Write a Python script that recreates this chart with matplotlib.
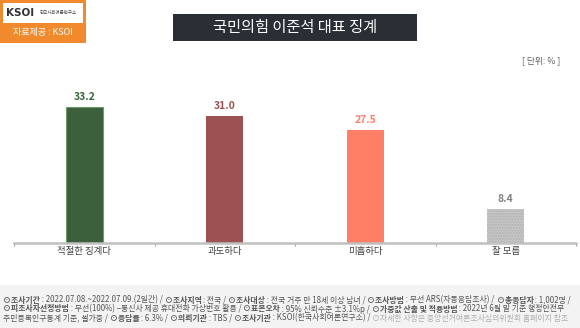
import matplotlib
matplotlib.use("Agg")
import matplotlib.pyplot as plt
from matplotlib.patches import Rectangle

plt.rcParams['font.family'] = ['Noto Sans CJK KR', 'DejaVu Sans']

# survey result (%)
categories = ['적절한 징계다', '과도하다', '미흡하다', '잘 모름']
values = [33.2, 31.0, 27.5, 8.4]
bar_colors = ['#3b603b', '#9c5252', '#ff7f66', '#c6c6c6']
label_colors = ['#3b643b', '#9c5252', '#ff7f66', '#7f7f7f']

title = '국민의힘 이준석 대표 징계'
unit = '[ 단위: % ]'

# footer: list of lines, each a list of (text, bold)
footer = [
    [('⊙조사기간', True), (' : 2022.07.08.~2022.07.09.(2일간) / ', False),
     ('⊙조사지역', True), (' : 전국 / ', False),
     ('⊙조사대상', True), (' : 전국 거주 만 18세 이상 남녀 / ', False),
     ('⊙조사방법', True), (' : 무선 ARS(자동응답조사) / ', False),
     ('⊙총응답자', True), (' : 1,002명 /', False)],
    [('⊙피조사자선정방법', True), (' : 무선(100%) –통신사 제공 휴대전화 가상번호 활용 / ', False),
     ('⊙표본오차', True), (' : 95% 신뢰수준 ±3.1%p / ', False),
     ('⊙가중값 산출 및 적용방법', True), (' : 2022년 6월 말 기준 행정안전부', False)],
    [('주민등록인구통계 기준, 셀가중 / ', False),
     ('⊙응답률', True), (' : 6.3% / ', False),
     ('⊙의뢰기관', True), (' : TBS / ', False),
     ('⊙조사기관', True), (' : KSOI(한국사회여론연구소) / ', False),
     ('⊙자세한 사항은 중앙선거여론조사심의위원회 홈페이지 참조', None)],
]

W, H = 580, 328
fig = plt.figure(figsize=(W / 100, H / 100), dpi=100)
fig.patch.set_facecolor('white')

# --- bar chart ---
ax = fig.add_axes([14 / W, 85 / H, 562 / W, 164 / H])
x = range(len(categories))
bars = ax.bar(x, values, width=0.265, color=bar_colors, linewidth=0, zorder=2)
bars[0].set_edgecolor('#6b9a6b')
bars[0].set_linewidth(0.8)
bars[3].set_hatch('......')
bars[3].set_edgecolor('#b2b2b2')
bars[3].set_linewidth(0)

for i, v in enumerate(values):
    ax.annotate(f'{v:.1f}', (i, v), xytext=(0, 3.5), textcoords='offset points',
                ha='center', va='bottom', fontsize=7.5, fontweight='bold',
                color=label_colors[i])

ax.set_xlim(-0.5, len(categories) - 0.5)
ax.set_ylim(0, 40)
for s in ['top', 'right', 'left']:
    ax.spines[s].set_visible(False)
ax.spines['bottom'].set_color('#c0c0c0')
ax.spines['bottom'].set_linewidth(1.8)
ax.set_yticks([])
ax.set_xticks([i + 0.5 for i in range(-1, len(categories))], minor=True)
ax.tick_params(axis='x', which='minor', length=2, color='#a0a0a0', width=0.8)
ax.set_xticks(list(x))
ax.set_xticklabels(categories, fontsize=6.8, color='#404040')
ax.tick_params(axis='x', which='major', length=0, pad=3)

# --- title box ---
fig.patches.append(Rectangle((173 / W, 1 - 41 / H), 244 / W, 27 / H,
                             transform=fig.transFigure, facecolor='#2a2e35',
                             edgecolor='none'))
fig.text(295 / W, 1 - 27.5 / H, title, ha='center', va='center',
         fontsize=11, color='white')

fig.text(541 / W, 1 - 61 / H, unit, ha='center', va='center',
         fontsize=6.3, color='#606060')

# --- logo ---
fig.patches.append(Rectangle((0, 1 - 43 / H), 86 / W, 43 / H,
                             transform=fig.transFigure, facecolor='#f08a2c',
                             edgecolor='none'))
fig.patches.append(Rectangle((3 / W, 1 - 23 / H), 80 / W, 20 / H,
                             transform=fig.transFigure, facecolor='white',
                             edgecolor='none'))
fig.text(6 / W, 1 - 13 / H, 'KSOI', ha='left', va='center', fontsize=7.5,
         fontweight='bold', color='#333333', family=['DejaVu Sans'])
fig.text(40 / W, 1 - 13 / H, '한국사회여론연구소', ha='left', va='center',
         fontsize=3.2, color='#444444')
fig.text(43 / W, 1 - 33 / H, '자료제공 : KSOI', ha='center', va='center',
         fontsize=6.5, color='white')

# --- footer ---
fig.patches.append(Rectangle((0, 0), 1, 43 / H, transform=fig.transFigure,
                             facecolor='#f3f3f3', edgecolor='none'))
renderer = fig.canvas.get_renderer()
line_y = [300, 309, 318]
for runs, yy in zip(footer, line_y):
    xx = 3 / W
    for text, bold in runs:
        color = '#b0b0b0' if bold is None else '#555555'
        t = fig.text(xx, 1 - yy / H, text, ha='left', va='center',
                     fontsize=5.7, color=color,
                     fontweight='bold' if bold else 'normal')
        xx += t.get_window_extent(renderer).width / W

fig.savefig('out.png', dpi=100, facecolor='white')
